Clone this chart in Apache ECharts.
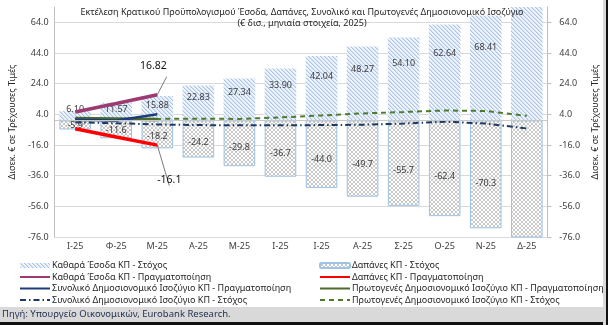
<!DOCTYPE html>
<html><head><meta charset="utf-8">
<script src="https://cdn.jsdelivr.net/npm/echarts@6/dist/echarts.min.js"></script>
<style>html,body{margin:0;padding:0;background:#fff}#c{width:608px;height:325px}</style>
</head><body><div id="c"></div>
<script>
const categories = ['Ι-25','Φ-25','Μ-25','Α-25','Μ-25','Ι-25','Ι-25','Α-25','Σ-25','Ο-25','Ν-25','Δ-25'];
const revenueTarget = [6.10, 11.57, 15.88, 22.83, 27.34, 33.90, 42.04, 48.27, 54.10, 62.64, 68.41, 78.0];
const expenseTarget = [-5.9, -11.6, -18.2, -24.2, -29.8, -36.7, -44.0, -49.7, -55.7, -62.4, -70.3, -79.0];
const revenueActual = [5.5, 11.1, 16.82];
const expenseActual = [-5.4, -10.8, -16.1];
const totalBalanceActual = [0.4, 0.0, 4.0];
const primaryBalanceActual = [1.3, 1.0, 0.6];
const totalBalanceTarget = [-1.2, -1.8, -2.6, -3.0, -3.2, -3.2, -3.0, -2.8, -2.0, -0.8, -2.0, -5.2];
const primaryBalanceTarget = [0.8, 0.9, 1.0, 1.2, 1.0, 2.0, 3.3, 4.6, 5.5, 6.5, 6.2, 3.0];
const yTickLabels = [-76, -56, -36, -16, 4, 24, 44, 64];
const names = {
  revT: 'Καθαρά Έσοδα ΚΠ - Στόχος',
  revA: 'Καθαρά Έσοδα ΚΠ - Πραγματοποίηση',
  totA: 'Συνολικό Δημοσιονομικό Ισοζύγιο ΚΠ - Πραγματοποίηση',
  totT: 'Συνολικό Δημοσιονομικό Ισοζύγιο ΚΠ - Στόχος',
  expT: 'Δαπάνες ΚΠ - Στόχος',
  expA: 'Δαπάνες ΚΠ - Πραγματοποίηση',
  priA: 'Πρωτογενές Δημοσιονομικό Ισοζύγιο ΚΠ - Πραγματοποίηση',
  priT: 'Πρωτογενές Δημοσιονομικό Ισοζύγιο ΚΠ - Στόχος'
};

const Y_MIN = -76, Y_MAX = 74;
const FONT = 'Noto Sans';

function makePattern(kind) {
  const c = document.createElement('canvas');
  c.width = 4; c.height = 4;
  const g = c.getContext('2d');
  g.fillStyle = '#ffffff'; g.fillRect(0, 0, 4, 4);
  if (kind === 'diag') {
    g.fillStyle = '#f0f5fb'; g.fillRect(0, 0, 4, 4);
    for (let i = 0; i < 4; i++) { g.fillStyle = '#a9c4e8'; g.fillRect(i, i, 1, 1); g.fillStyle = '#d3e1f3'; g.fillRect((i + 1) % 4, i, 1, 1); }
  } else {
    for (let i = 0; i < 4; i++) { g.fillStyle = '#c8c8c8'; g.fillRect(i, i, 1, 1); g.fillRect(3 - i, i, 1, 1); }
  }
  return { image: c, repeat: 'repeat' };
}

const inRange = v => v >= Y_MIN && v <= Y_MAX;

function lastLabeled(arr, digits, dx, dy) {
  return arr.map((v, i) => i === arr.length - 1 ? {
    value: v, symbol: 'circle', symbolSize: 1,
    label: { show: true, position: 'inside', formatter: () => v.toFixed(digits), fontSize: 10.5, color: '#111', fontFamily: FONT, offset: [dx, dy] }
  } : v);
}

const lineLegend = n => ({ name: n, itemStyle: { opacity: 0 } });

const chart = echarts.init(document.getElementById('c'), null, { renderer: 'canvas' });
const tickFmt = v => { const r = Math.round(v); return yTickLabels.indexOf(r) >= 0 ? r.toFixed(1) : ''; };

chart.setOption({
  animation: false,
  backgroundColor: '#ffffff',
  textStyle: { fontFamily: FONT },
  title: {
    text: 'Εκτέλεση Κρατικού Προϋπολογισμού Έσοδα, Δαπάνες, Συνολικό και Πρωτογενές Δημοσιονομικό Ισοζύγιο',
    subtext: '(€ δισ., μηνιαία στοιχεία, 2025)',
    left: 302, textAlign: 'center', top: 8, itemGap: 2, padding: 0,
    textStyle: { fontSize: 9, fontWeight: 'normal', color: '#262626', fontFamily: FONT },
    subtextStyle: { fontSize: 9, color: '#262626', fontFamily: FONT }
  },
  grid: { left: 52, right: 56, top: 7, bottom: 88, containLabel: false },
  legend: [
    { orient: 'vertical', left: 14, top: 256, itemWidth: 30, itemHeight: 5, itemGap: 2.5,
      textStyle: { fontSize: 9, color: '#262626', fontFamily: FONT, padding: [0, 0, 0, -3] },
      data: [names.revT, lineLegend(names.revA), lineLegend(names.totA), lineLegend(names.totT)] },
    { orient: 'vertical', left: 314, top: 256, itemWidth: 30, itemHeight: 5, itemGap: 2.5,
      textStyle: { fontSize: 9, color: '#262626', fontFamily: FONT, padding: [0, 0, 0, -3] },
      data: [names.expT, lineLegend(names.expA), lineLegend(names.priA), lineLegend(names.priT)] }
  ],
  xAxis: {
    type: 'category', data: categories,
    axisLine: { show: false, onZero: false }, axisTick: { show: false },
    axisLabel: { color: '#404040', fontSize: 9, margin: 5, interval: 0, fontFamily: FONT }
  },
  yAxis: [
    { type: 'value', min: Y_MIN, max: Y_MAX, interval: 4,
      name: 'Δισεκ. € σε Τρέχουσες Τιμές', nameLocation: 'middle', nameGap: 34, nameRotate: 90,
      nameTextStyle: { fontSize: 9, color: '#262626', fontFamily: FONT },
      axisLine: { show: true, lineStyle: { color: '#bfbfbf' } }, axisTick: { show: false },
      axisLabel: { formatter: tickFmt, color: '#404040', fontSize: 9, margin: 6, fontFamily: FONT },
      splitLine: { show: true, lineStyle: { color: ['#d9d9d9', 'rgba(0,0,0,0)', 'rgba(0,0,0,0)', 'rgba(0,0,0,0)', 'rgba(0,0,0,0)'], width: 1 } } },
    { type: 'value', min: Y_MIN, max: Y_MAX, interval: 4, position: 'right',
      name: 'Δισεκ. € σε Τρέχουσες Τιμές', nameLocation: 'middle', nameGap: 38, nameRotate: 90,
      nameTextStyle: { fontSize: 9, color: '#262626', fontFamily: FONT },
      axisLine: { show: true, lineStyle: { color: '#bfbfbf' } },
      axisTick: { show: true, length: 4, customValues: yTickLabels, lineStyle: { color: '#bfbfbf' } },
      axisLabel: { customValues: yTickLabels, formatter: v => Number(v).toFixed(1), color: '#404040', fontSize: 9, margin: 12, fontFamily: FONT },
      splitLine: { show: false } }
  ],
  series: [
    { name: names.revT, type: 'bar', data: revenueTarget, barCategoryGap: '23%', barGap: '-100%', clip: true,
      itemStyle: { color: makePattern('diag') },
      label: { show: true, formatter: p => inRange(p.value) ? p.value.toFixed(2) : '', color: '#404040', fontSize: 9, fontFamily: FONT },
      labelLayout: p => ({ x: p.rect.x + p.rect.width / 2, y: p.rect.y + p.rect.height - Math.max(p.rect.height * 0.72 - 2.5, 11), align: 'center', verticalAlign: 'middle' }),
      markLine: { silent: true, symbol: 'none', label: { show: false }, lineStyle: { color: '#c8c8c8', width: 1, type: 'solid' }, data: [{ yAxis: 0 }] } },
    { name: names.expT, type: 'bar', data: expenseTarget, barCategoryGap: '23%', barGap: '-100%', clip: true,
      itemStyle: { color: makePattern('cross'), borderColor: '#9dc3e6', borderWidth: 1 },
      label: { show: true, formatter: p => inRange(p.value) ? p.value.toFixed(1) : '', color: '#404040', fontSize: 9, fontFamily: FONT },
      labelLayout: p => ({ x: p.rect.x + p.rect.width / 2, y: p.rect.y + p.rect.height * 0.58, align: 'center', verticalAlign: 'middle' }) },
    { name: names.totT, type: 'line', data: totalBalanceTarget, symbol: 'none',
      lineStyle: { color: '#1f3864', width: 2, type: [6, 3, 1.5, 3] }, itemStyle: { color: '#1f3864' } },
    { name: names.priT, type: 'line', data: primaryBalanceTarget, symbol: 'none',
      lineStyle: { color: '#4e7a2e', width: 2, type: [5, 4] }, itemStyle: { color: '#4e7a2e' } },
    { name: names.priA, type: 'line', data: primaryBalanceActual, symbol: 'none',
      lineStyle: { color: '#4a6b2a', width: 3.5 }, itemStyle: { color: '#4a6b2a' } },
    { name: names.totA, type: 'line', data: totalBalanceActual, symbol: 'none',
      lineStyle: { color: '#1f3a7a', width: 2.5 }, itemStyle: { color: '#1f3a7a' } },
    { name: names.revA, type: 'line', data: lastLabeled(revenueActual, 2, -4, -29), symbol: 'none',
      lineStyle: { color: '#9e3a72', width: 3.5 }, itemStyle: { color: '#9e3a72' },
      labelLine: { show: true, lineStyle: { color: '#595959', width: 0.8 } } },
    { name: names.expA, type: 'line', data: lastLabeled(expenseActual, 1, 12, 35), symbol: 'none',
      lineStyle: { color: '#ff0000', width: 3.5 }, itemStyle: { color: '#ff0000' },
      labelLine: { show: true, lineStyle: { color: '#595959', width: 0.8 } } }
  ],
  graphic: [
    { type: 'rect', left: 0, top: 307, shape: { width: 608, height: 15 }, style: { fill: '#d9d9d9' }, z: -1 },
    { type: 'rect', left: 0, top: 322, shape: { width: 608, height: 3 }, style: { fill: '#111' } },
    { type: 'rect', left: 603, top: 0, shape: { width: 3, height: 325 }, style: { fill: '#d9d9d9' } },
    { type: 'rect', left: 606, top: 0, shape: { width: 2, height: 325 }, style: { fill: '#111' } },
    { type: 'text', left: 2, top: 309, style: { text: 'Πηγή: Υπουργείο Οικονομικών, Eurobank Research.', fontSize: 9.5, fill: '#1f2d4d', fontFamily: FONT } }
  ]
});
</script>
</body></html>
